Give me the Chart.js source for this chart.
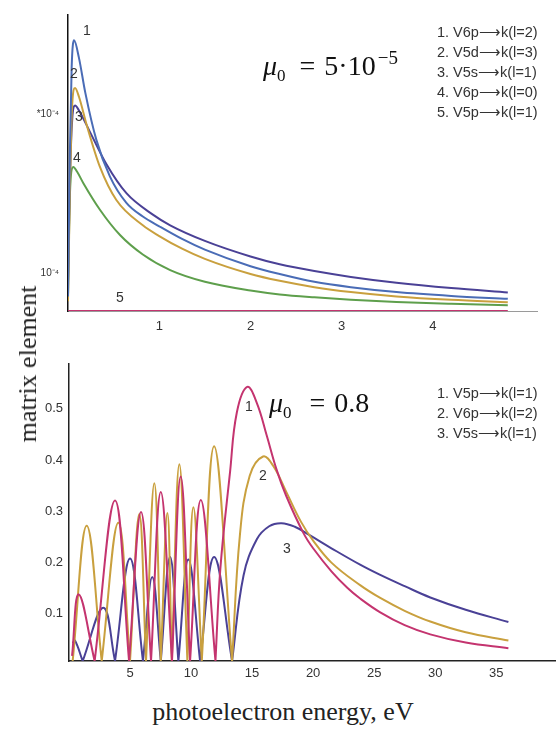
<!DOCTYPE html>
<html lang="en">
<head>
<meta charset="UTF-8">
<title>matrix element vs photoelectron energy</title>
<script src="https://cdn.jsdelivr.net/npm/chart.js"></script>
<style>
  body { margin: 0; background: #fff; }
  #wrap { position: relative; width: 556px; height: 731px; overflow: hidden; font-family: "Liberation Sans", Arial, sans-serif; color: #333; }
  canvas { position: absolute; left: 0; }
  .num { position: absolute; font-size: 14px; line-height: 14px; transform: translate(-50%, -50%); color: #333; }
  .legend { position: absolute; font-size: 14.5px; line-height: 20px; white-space: nowrap; color: #333; }
  .mu { position: absolute; font-family: "Liberation Serif", serif; font-size: 28px; line-height: 28px; white-space: nowrap; color: #111; }
  .mu i { font-style: italic; }
  .mu sub { font-size: 17px; vertical-align: baseline; position: relative; top: 6px; }
  .mu sup { font-size: 19px; vertical-align: baseline; position: relative; top: -11px; margin-left: 2px; }
  .mu .eq { margin: 0 9px 0 14px; }
  .title { position: absolute; font-family: "Liberation Serif", serif; font-size: 26px; line-height: 26px; color: #222; white-space: nowrap; transform: translate(-50%, -50%); }
</style>
</head>
<body>
<div id="wrap">
  <canvas id="top" width="556" height="340" style="top:0"></canvas>
  <canvas id="bottom" width="556" height="340" style="top:350px"></canvas>

  <div class="mu" style="left:263px; top:52px"><i>μ</i><sub>0</sub><span class="eq">=</span>5·10<sup>−5</sup></div>
  <div class="mu" style="left:269px; top:389px"><i>μ</i><sub>0</sub><span class="eq" style="margin-left:18px">=</span>0.8</div>

  <div class="legend" id="topLegend" style="left:437px; top:22px"></div>
  <div class="legend" id="bottomLegend" style="left:437px; top:383px"></div>

  <div class="num" style="left:87px; top:30px">1</div>
  <div class="num" style="left:74px; top:73px">2</div>
  <div class="num" style="left:79px; top:116px">3</div>
  <div class="num" style="left:77px; top:157px">4</div>
  <div class="num" style="left:120px; top:297px">5</div>

  <div class="num" style="left:249px; top:406px">1</div>
  <div class="num" style="left:263px; top:475px">2</div>
  <div class="num" style="left:287px; top:548px">3</div>

  <div class="title" style="left:28px; top:364px; transform: translate(-50%, -50%) rotate(-90deg)">matrix element</div>
  <div class="title" style="left:283px; top:712px">photoelectron energy, eV</div>
</div>

<script>
// ---- top panel, mu0 = 5e-5 (arbitrary units, labels as in the figure)
const topNames = ['1. V6p⟶k(l=2)', '2. V5d⟶k(l=3)', '3. V5s⟶k(l=1)', '4. V6p⟶k(l=0)', '5. V5p⟶k(l=1)'];
const topColors = ['#4a6cb6', '#c9a03e', '#4a4196', '#5e9f4c', '#c4346f'];
const topXTicks = [1, 2, 3, 4];
const topYTicks = [0.39, 2.02];
const topYTickLabels = ['10⁻⁴', '*10⁻⁴'];

const top1x = [0, 0.02, 0.04, 0.066, 0.12, 0.19, 0.31, 0.46, 0.64, 0.82, 1.0, 1.25, 1.5, 2.0, 2.32, 2.7, 3.1, 3.6, 4.2, 4.82];
const top1y = [0.15, 1.6, 2.5, 2.78, 2.6, 2.24, 1.76, 1.38, 1.11, 0.97, 0.87, 0.74, 0.63, 0.46, 0.38, 0.3, 0.245, 0.195, 0.155, 0.125];
const top2x = [0, 0.02, 0.045, 0.077, 0.12, 0.205, 0.35, 0.53, 0.82, 1.0, 1.25, 1.5, 2.0, 2.32, 2.7, 3.1, 3.6, 4.2, 4.82];
const top2y = [0.1, 1.2, 2.1, 2.29, 2.2, 1.91, 1.48, 1.14, 0.88, 0.77, 0.64, 0.535, 0.38, 0.31, 0.245, 0.195, 0.15, 0.115, 0.09];
const top3x = [0, 0.02, 0.045, 0.077, 0.12, 0.24, 0.42, 0.64, 0.93, 1.12, 1.5, 2.0, 2.32, 2.7, 3.1, 3.6, 4.2, 4.82];
const top3y = [0.3, 1.3, 1.95, 2.11, 2.06, 1.84, 1.51, 1.21, 0.99, 0.88, 0.72, 0.56, 0.48, 0.41, 0.35, 0.29, 0.235, 0.19];
const top4x = [0, 0.015, 0.035, 0.058, 0.1, 0.17, 0.35, 0.57, 0.82, 1.12, 1.5, 2.0, 2.32, 2.7, 3.1, 3.6, 4.2, 4.82];
const top4y = [0.14, 1.0, 1.42, 1.48, 1.43, 1.31, 1.04, 0.78, 0.58, 0.42, 0.3, 0.21, 0.17, 0.14, 0.115, 0.092, 0.074, 0.06];
const top5x = [0, 4.82];
const top5y = [0, 0];

// ---- bottom panel, mu0 = 0.8 (repeated zero = cusp)
const botNames = ['1. V5p⟶k(l=1)', '2. V6p⟶k(l=2)', '3. V5s⟶k(l=1)'];
const botColors = ['#c4346f', '#c9a03e', '#4a4196'];
const botXTicks = [5, 10, 15, 20, 25, 30, 35];
const botYTicks = [0.1, 0.2, 0.3, 0.4, 0.5];

const bot1x = [0.25, 0.8, 2.1, 2.1, 3.77, 4.92, 4.92, 5.9, 6.72, 6.72, 7.52, 8.44, 8.44, 9.15, 9.92, 9.92, 10.8, 12.0, 12.0, 12.4, 13.2, 13.75, 14.6, 15.4, 16.2, 17.0, 17.8, 19.2, 20.0, 21.5, 22.8, 23.85, 25.5, 27.5, 29.6, 32.5, 36];
const bot1y = [0.01, 0.13, 0, 0, 0.313, 0, 0, 0.291, 0, 0, 0.33, 0, 0, 0.36, 0, 0, 0.314, 0, 0, 0.18, 0.37, 0.485, 0.535, 0.503, 0.44, 0.374, 0.322, 0.25, 0.22, 0.175, 0.143, 0.122, 0.095, 0.07, 0.052, 0.036, 0.025];
const bot2x = [0.3, 1.45, 2.68, 2.68, 4.04, 5.0, 5.0, 5.76, 6.31, 6.31, 6.99, 7.52, 7.52, 8.06, 8.42, 8.42, 9.04, 9.7, 9.7, 10.19, 10.88, 10.88, 11.89, 13.36, 13.36, 14.0, 14.8, 15.9, 16.75, 17.8, 19.0, 20.0, 21.5, 23.85, 25.5, 27.5, 29.6, 32.5, 36];
const bot2y = [0, 0.264, 0, 0, 0.27, 0, 0, 0.287, 0, 0, 0.347, 0, 0, 0.289, 0, 0, 0.384, 0, 0, 0.3, 0, 0, 0.419, 0, 0, 0.245, 0.361, 0.399, 0.38, 0.33, 0.272, 0.235, 0.192, 0.148, 0.123, 0.098, 0.077, 0.056, 0.04];
const bot3x = [0.3, 0.49, 1.12, 1.12, 2.81, 3.77, 3.77, 5.0, 6.06, 6.06, 6.82, 7.52, 7.52, 8.28, 8.96, 8.96, 9.78, 10.74, 10.74, 11.89, 13.36, 13.36, 14.3, 15.4, 16.4, 17.4, 18.5, 19.75, 21.5, 23.85, 25.5, 27.5, 29.6, 32.5, 36];
const bot3y = [0.035, 0.04, 0, 0, 0.104, 0, 0, 0.2, 0, 0, 0.164, 0, 0, 0.203, 0, 0, 0.198, 0, 0, 0.203, 0, 0, 0.167, 0.238, 0.263, 0.269, 0.262, 0.245, 0.22, 0.188, 0.168, 0.146, 0.124, 0.1, 0.076];

function pts(xs, ys) {
  return xs.map((x, i) => ({ x: x, y: ys[i] }));
}

document.getElementById('topLegend').innerHTML = topNames.join('<br>');
document.getElementById('bottomLegend').innerHTML = botNames.join('<br>');

const tickFont = { family: '"Liberation Sans", Arial, sans-serif', size: 13 };

new Chart(document.getElementById('top'), {
  type: 'line',
  data: {
    datasets: [
      [top1x, top1y], [top2x, top2y], [top3x, top3y], [top4x, top4y], [top5x, top5y]
    ].map((s, i) => ({
      label: topNames[i],
      data: pts(s[0], s[1]),
      borderColor: topColors[i],
      borderWidth: 2,
      pointRadius: 0,
      cubicInterpolationMode: 'monotone',
      fill: false
    }))
  },
  options: {
    responsive: false,
    animation: false,
    layout: { padding: { top: 7, right: 19, left: 0, bottom: 0 } },
    plugins: { legend: { display: false }, tooltip: { enabled: false } },
    scales: {
      x: {
        type: 'linear', min: 0, max: 5.14,
        grid: { display: false, drawTicks: false },
        border: { display: true, color: '#9a9a9a', width: 1 },
        afterFit: s => { s.height = 29; },
        afterBuildTicks: s => { s.ticks = topXTicks.map(v => ({ value: v })); },
        ticks: { autoSkip: false, maxRotation: 0, padding: 8, color: '#333', font: tickFont }
      },
      y: {
        type: 'linear', min: 0, max: 3.04,
        grid: { display: false, drawTicks: false },
        border: { display: true, color: '#111', width: 1.5 },
        afterFit: s => { s.width = 68; },
        afterBuildTicks: s => { s.ticks = topYTicks.map(v => ({ value: v })); },
        ticks: {
          autoSkip: false, padding: 9, color: '#333',
          font: { family: tickFont.family, size: 10 },
          callback: v => topYTickLabels[topYTicks.indexOf(v)]
        }
      }
    }
  }
});

new Chart(document.getElementById('bottom'), {
  type: 'line',
  data: {
    datasets: [
      [bot1x, bot1y], [bot2x, bot2y], [bot3x, bot3y]
    ].map((s, i) => ({
      label: botNames[i],
      data: pts(s[0], s[1]),
      borderColor: botColors[i],
      borderWidth: 2,
      pointRadius: 0,
      tension: 0.4,
      fill: false
    }))
  },
  options: {
    responsive: false,
    animation: false,
    layout: { padding: { top: 13, right: 0, left: 0, bottom: 0 } },
    plugins: { legend: { display: false }, tooltip: { enabled: false } },
    scales: {
      x: {
        type: 'linear', min: 0, max: 39.9,
        grid: { display: false, drawTicks: false },
        border: { display: true, color: '#222', width: 1.5 },
        afterFit: s => { s.height = 29; },
        afterBuildTicks: s => { s.ticks = botXTicks.map(v => ({ value: v })); },
        ticks: { autoSkip: false, maxRotation: 0, padding: 5, color: '#333', font: tickFont }
      },
      y: {
        type: 'linear', min: 0, max: 0.58,
        grid: { display: false, drawTicks: false },
        border: { display: true, color: '#222', width: 1.5 },
        afterFit: s => { s.width = 69; },
        afterBuildTicks: s => { s.ticks = botYTicks.map(v => ({ value: v })); },
        ticks: { autoSkip: false, padding: 6, labelOffset: 4, color: '#333', font: tickFont }
      }
    }
  }
});
</script>
</body>
</html>
